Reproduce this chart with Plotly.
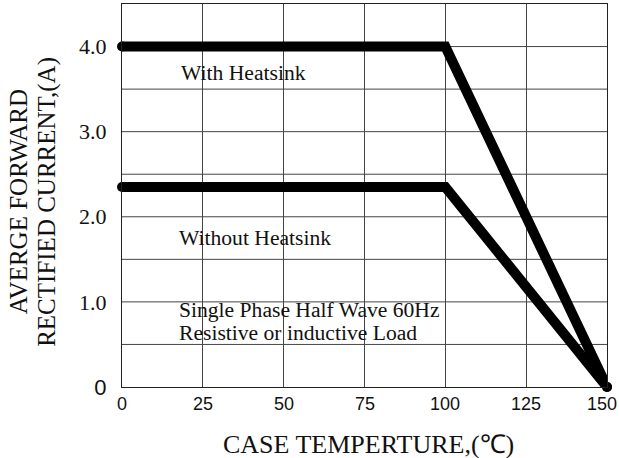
import plotly.graph_objects as go

# Data
temp_with = [0, 100, 150]
current_with = [4.0, 4.0, 0.0]
temp_without = [0, 100, 150]
current_without = [2.35, 2.35, 0.0]

x_ticks = [0, 25, 50, 75, 100, 125, 150]
x_tick_labels = ["0", "25", "50", "75", "100", "125", "150"]
y_ticks = [0, 1, 2, 3, 4]
y_tick_labels = ["<span style='font-family:Liberation Sans, Arial'>0</span>",
                 "1.0", "2.0", "3.0", "4.0"]
y_grid = [0.5, 1, 1.5, 2, 2.5, 3, 3.5, 4]

SERIF = "Liberation Serif, Times New Roman, serif"
SANS = "Liberation Sans, Arial, sans-serif"

fig = go.Figure()
for xs, ys in [(temp_with, current_with), (temp_without, current_without)]:
    fig.add_trace(go.Scatter(
        x=xs, y=ys, mode="lines",
        line=dict(color="black", width=10, shape="linear"),
        cliponaxis=False, showlegend=False, hoverinfo="skip",
    ))
    fig.add_trace(go.Scatter(
        x=[xs[0], xs[-1]], y=[ys[0], ys[-1]], mode="markers",
        marker=dict(color="black", size=10),
        cliponaxis=False, showlegend=False, hoverinfo="skip",
    ))

# horizontal grid lines
for g in y_grid:
    fig.add_shape(type="line", xref="x", yref="y", x0=0, x1=150, y0=g, y1=g,
                  line=dict(color="#444444", width=1), layer="below")

# x tick labels (last one kept inside the page)
for i, (v, lab) in enumerate(zip(x_ticks, x_tick_labels)):
    last = i == len(x_ticks) - 1
    fig.add_annotation(x=v, y=0, xref="x", yref="paper", text=lab,
                       showarrow=False, xanchor="right" if last else "center",
                       yanchor="middle", yshift=-17,
                       xshift=12 if last else 0,
                       font=dict(family=SANS, size=18, color="#111"))

annos = [
    ("With Heatsink", 17.6, 3.69),
    ("Without Heatsink", 17.0, 1.75),
    ("Single Phase Half Wave 60Hz", 17.0, 0.905),
    ("Resistive or inductive Load", 17.0, 0.635),
]
for t, x, y in annos:
    fig.add_annotation(x=x, y=y, text=t, xref="x", yref="y", showarrow=False,
                       xanchor="left", yanchor="middle",
                       font=dict(family=SERIF, size=21.6, color="#111"))

# y axis title (two lines)
fig.add_annotation(xref="paper", yref="paper", x=-0.214, y=0.483,
                   text="AVERGE FORWARD", textangle=-90, showarrow=False,
                   xanchor="center", yanchor="middle",
                   font=dict(family=SERIF, size=25, color="#111"))
fig.add_annotation(xref="paper", yref="paper", x=-0.155, y=0.483,
                   text="RECTIFIED CURRENT,(A)", textangle=-90, showarrow=False,
                   xanchor="center", yanchor="middle",
                   font=dict(family=SERIF, size=25, color="#111"))
# x axis title
fig.add_annotation(xref="paper", yref="paper", x=0.509, y=-0.151,
                   text="CASE TEMPERTURE,(℃)", showarrow=False,
                   xanchor="center", yanchor="middle",
                   font=dict(family=SERIF, size=26, color="#111"))

fig.update_layout(
    width=619, height=458,
    margin=dict(l=122, r=12, t=4, b=71),
    paper_bgcolor="white", plot_bgcolor="white",
    xaxis=dict(range=[0, 150], tickvals=x_ticks, showticklabels=False,
               showgrid=True, gridcolor="#444444", gridwidth=1,
               showline=True, linecolor="#222", linewidth=1, mirror=True,
               zeroline=False, ticks="", ticklen=0, automargin=False),
    yaxis=dict(range=[0, 4.5], tickvals=y_ticks, ticktext=y_tick_labels,
               showgrid=False, showline=True, linecolor="#222", linewidth=1,
               mirror=True, zeroline=False, ticks="", ticklen=0,
               automargin=False, ticklabelstandoff=10,
               ticklabeloverflow="allow",
               tickfont=dict(family=SERIF, size=22, color="#111")),
)

fig.write_html("out.html", config={"displayModeBar": False},
               post_script="document.body.style.margin='0';document.body.style.padding='0';")
